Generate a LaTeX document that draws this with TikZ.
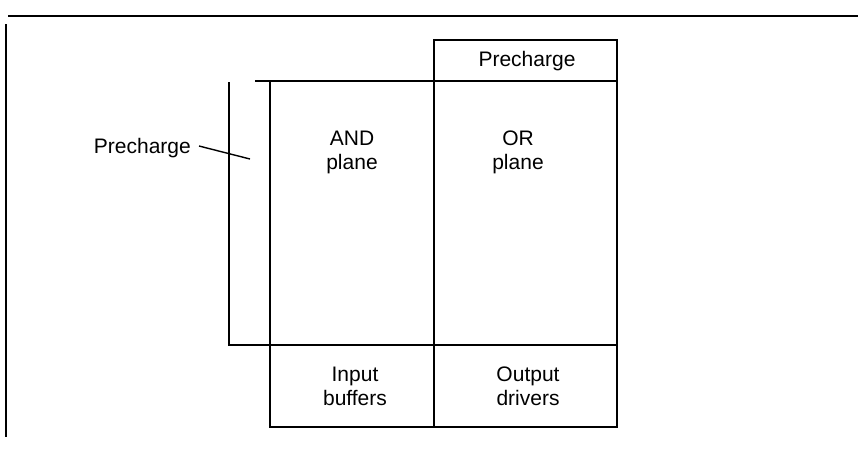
\documentclass[tikz,border=0pt]{standalone}
\usepackage{fontspec}
\setmainfont{Liberation Sans}
\begin{document}
\begin{tikzpicture}[x=1pt,y=-1pt,
  cell/.style={draw,line width=2.6pt,rectangle,inner sep=0pt,outer sep=0pt},
  lbl/.style={font=\fontsize{21}{24}\selectfont,align=center,inner sep=0pt},
  wire/.style={line width=2.6pt},
  thin/.style={line width=1.4pt}]
\useasboundingbox (0,0) rectangle (858,456);
% frame rules
\coordinate (ruleL) at (8,16);
\coordinate (ruleR) at (858,16);
\draw[line width=2.8pt] (ruleL) -- (ruleR);
\coordinate (frameT) at (6,24);
\coordinate (frameB) at (6,437);
\draw[thin] (frameT) -- (frameB);
% cells
\node[cell,minimum width=183pt,minimum height=41pt] (prech) at (525.5,60.5) {};
\node[cell,minimum width=164pt,minimum height=264pt] (andp) at (352,213) {};
\node[cell,minimum width=183pt,minimum height=264pt] (orp) at (525.5,213) {};
\node[cell,minimum width=164pt,minimum height=82pt] (inbuf) at (352,386) {};
\node[cell,minimum width=183pt,minimum height=82pt] (outdrv) at (525.5,386) {};
% labels
\node[lbl] (tprech) at (527,61) {Precharge};
\node[lbl] (tand) at (352,152) {AND\\plane};
\node[lbl] (tor) at (518,152) {OR\\plane};
\node[lbl] (tin) at (355,386) {Input\\buffers};
\node[lbl] (tout) at (528,386) {Output\\drivers};
% precharge line on the left
\coordinate (topext) at (255,81);
\draw[wire] (topext) -- (andp.north west);
\coordinate (lTop) at (229,82);
\coordinate (lBot) at (229,345);
\draw[wire] (lTop) -- (lBot) -- (andp.south west);
% left label with leader
\node[lbl,anchor=east] (lprech) at (191,148) {Precharge};
\coordinate (leadEnd) at (250,159);
\draw[thin] ([xshift=8pt,yshift=2pt]lprech.east) -- (leadEnd);
\end{tikzpicture}
\end{document}
